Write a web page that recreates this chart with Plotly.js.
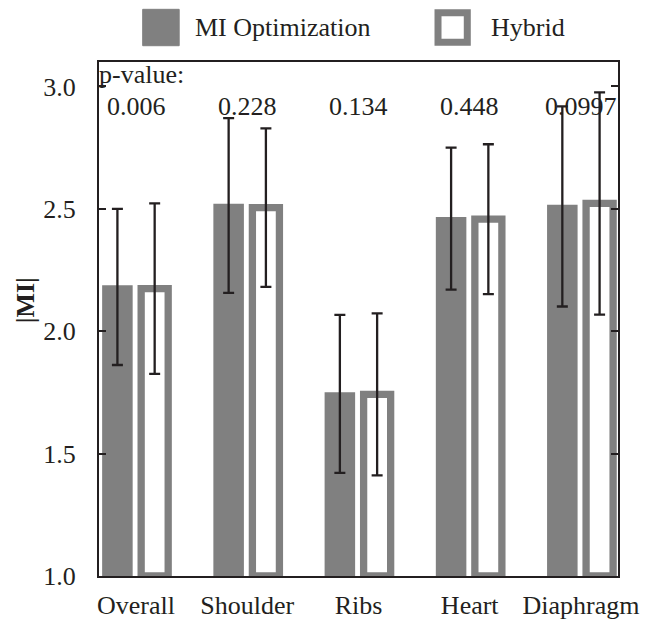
<!DOCTYPE html>
<html>
<head>
<meta charset="utf-8">
<script src="https://cdn.plot.ly/plotly-3.0.1.min.js"></script>
<style>html,body{margin:0;padding:0;background:#fff;}#chart{width:665px;height:621px;}</style>
</head>
<body>
<div id="chart"></div>
<script>
// ---- data ----
const categories = ["Overall", "Shoulder", "Ribs", "Heart", "Diaphragm"];
const miMean = [2.181, 2.514, 1.744, 2.460, 2.510];
const miSd = [0.319, 0.357, 0.323, 0.290, 0.409];
const hybridMean = [2.174, 2.505, 1.742, 2.458, 2.522];
const hybridSd = [0.348, 0.324, 0.331, 0.306, 0.454];
const pValues = ["0.006", "0.228", "0.134", "0.448", "0.0997"];
const seriesNames = ["MI Optimization", "Hybrid"];
const yTicks = [1.0, 1.5, 2.0, 2.5, 3.0];

// ---- styles ----
const AXIS_MIN = 1.0;
const GRAY = "#808080";
const INK = "#231f20";
const FONT = "Liberation Serif";
const FS = 26;

const traces = [
  {
    type: "bar", name: seriesNames[0], x: categories,
    y: miMean.map(v => v - AXIS_MIN), base: AXIS_MIN,
    width: 0.243, offset: -0.289,
    marker: {color: GRAY, line: {color: GRAY, width: 3.5}},
    error_y: {type: "data", array: miSd, visible: true, color: INK, thickness: 2.3, width: 5.5},
    showlegend: false, hoverinfo: "skip"
  },
  {
    type: "bar", name: seriesNames[1], x: categories,
    y: hybridMean.map(v => v - AXIS_MIN), base: AXIS_MIN,
    width: 0.243, offset: 0.046,
    marker: {color: "#ffffff", line: {color: GRAY, width: 7.3}},
    error_y: {type: "data", array: hybridSd, visible: true, color: INK, thickness: 2.3, width: 5.5},
    showlegend: false, hoverinfo: "skip"
  }
];

const annotations = [];
pValues.forEach((p, i) => {
  annotations.push({
    xref: "x", yref: "paper", x: categories[i], y: 0.913, yanchor: "middle",
    text: p, showarrow: false, font: {family: FONT, size: FS, color: INK}
  });
});
annotations.push({
  xref: "paper", yref: "paper", x: -0.004, y: 0.976, xanchor: "left", yanchor: "middle",
  text: "p-value:", showarrow: false, font: {family: FONT, size: FS, color: INK}
});
annotations.push({
  xref: "paper", yref: "paper", x: 0.182, y: 1.068, xanchor: "left", yanchor: "middle",
  text: seriesNames[0], showarrow: false, font: {family: FONT, size: FS, color: INK}
});
annotations.push({
  xref: "paper", yref: "paper", x: 0.752, y: 1.068, xanchor: "left", yanchor: "middle",
  text: seriesNames[1], showarrow: false, font: {family: FONT, size: FS, color: INK}
});
annotations.push({
  xref: "paper", yref: "paper", x: -0.14, y: 0.537, xanchor: "center", yanchor: "middle",
  text: "<b>|MI|</b>", textangle: -90, showarrow: false, font: {family: FONT, size: FS, color: INK}
});

const shapes = [
  {type: "rect", xref: "paper", yref: "paper", x0: 0.0842, x1: 0.1545, y0: 1.0317, y1: 1.1025,
   fillcolor: GRAY, line: {color: GRAY, width: 1}},
  {type: "rect", xref: "paper", yref: "paper", x0: 0.6532, x1: 0.7096, y0: 1.0385, y1: 1.0957,
   fillcolor: "#ffffff", line: {color: GRAY, width: 7}}
];

const layout = {
  width: 665, height: 621,
  margin: {l: 99, r: 47, t: 62, b: 45, pad: 0},
  paper_bgcolor: "#ffffff", plot_bgcolor: "#ffffff",
  barmode: "group",
  showlegend: false,
  font: {family: FONT, size: FS, color: INK},
  xaxis: {
    type: "category", range: [-0.333, 4.333],
    showline: true, mirror: true, linecolor: INK, linewidth: 2,
    ticks: "", showgrid: false, zeroline: false, automargin: false,
    ticklabelstandoff: 5,
    tickfont: {family: FONT, size: FS, color: INK}
  },
  yaxis: {
    range: [AXIS_MIN, 3.1], tickvals: yTicks, ticktext: yTicks.map(v => v.toFixed(1)),
    ticks: "inside", ticklen: 7, tickwidth: 2, tickcolor: INK,
    showline: true, mirror: "ticks", linecolor: INK, linewidth: 2,
    showgrid: false, zeroline: false, automargin: false,
    ticklabelstandoff: 16,
    tickfont: {family: FONT, size: FS, color: INK}
  },
  annotations: annotations,
  shapes: shapes
};

Plotly.newPlot("chart", traces, layout, {displayModeBar: false, staticPlot: true});
</script>
</body>
</html>
